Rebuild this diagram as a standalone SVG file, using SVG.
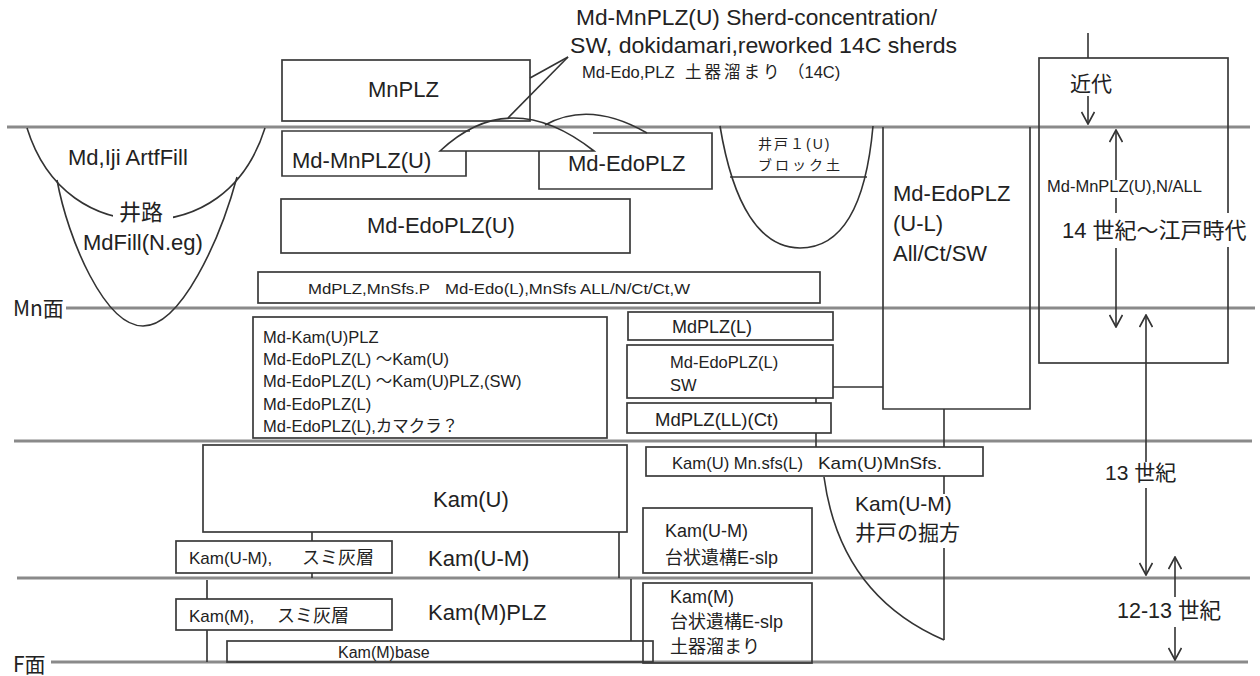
<svg xmlns="http://www.w3.org/2000/svg" width="1260" height="676" viewBox="0 0 1260 676">
<defs>
<style>
.strata{stroke:#8a8a8a;stroke-width:3;fill:none}
.bx{stroke:#3a3a3a;stroke-width:1.7;fill:none}
.ln{stroke:#333;stroke-width:1.6;fill:none}
text{font-family:'Liberation Sans','Noto Sans CJK JP',sans-serif;fill:#222}
.t22{font-size:22px}
.t16{font-size:16.5px}
.t14{font-size:14px}
.j{font-family:'Noto Sans CJK JP',sans-serif}
</style>
<marker id="ah" viewBox="0 0 14 14" refX="13" refY="7" markerWidth="14" markerHeight="14" markerUnits="userSpaceOnUse" orient="auto">
<path d="M1,0.5 L13,7 L1,13.5" fill="none" stroke="#333" stroke-width="1.7"/>
</marker>
</defs>
<rect width="1260" height="676" fill="#fff"/>

<g id="strata">
<line class="strata" x1="7" y1="127" x2="1250" y2="127"/>
<line class="strata" x1="66" y1="308" x2="1255" y2="308"/>
<line class="strata" x1="14" y1="441" x2="1252" y2="441"/>
<line class="strata" x1="17" y1="578" x2="1250" y2="578"/>
<line class="strata" x1="51" y1="662" x2="1248" y2="662"/>
<text class="j" x="13" y="316" font-size="21">Mn面</text>
<text class="j" x="13" y="672" font-size="21">F面</text>
</g>

<g id="well-left">
<path class="ln" d="M27,128 C47,192 95,220 146,220 C197,220 245,192 265,128"/>
<path class="ln" d="M57,180 C68,240 105,326 143,326 C181,326 220,240 237,177"/>
<rect x="113" y="199" width="60" height="27" fill="#fff"/>
<text class="t22" x="68" y="165">Md,Iji ArtfFill</text>
<text class="t22 j" x="119" y="220">井路</text>
<text class="t22" x="83" y="250">MdFill(N.eg)</text>
</g>

<g id="well-1">
<path class="ln" d="M720,126 C733,205 760,248 800,248 C842,248 866,205 873,126"/>
<line class="ln" x1="730" y1="177" x2="867" y2="177"/>
<text class="t14" x="758" y="149" letter-spacing="2">井戸１(U)</text>
<text class="t14" x="758" y="170" letter-spacing="3">ブロック土</text>
</g>

<g id="mnplz">
<rect class="bx" x="282" y="60" width="248" height="61"/>
<text class="t22" x="368" y="97">MnPLZ</text>
</g>

<g id="callout">
<text class="t22" x="576" y="25" textLength="361" lengthAdjust="spacingAndGlyphs">Md-MnPLZ(U) Sherd-concentration/</text>
<text class="t22" x="570" y="53" textLength="387" lengthAdjust="spacingAndGlyphs">SW, dokidamari,reworked 14C sherds</text>
<text class="t16" x="582" y="78">Md-Edo,PLZ<tspan x="685" letter-spacing="3">土器溜まり</tspan><tspan x="788">（14C)</tspan></text>
</g>

<g id="md-mnplz-u">
<path class="bx" d="M466,151 L466,176 L282,176 L282,131 L470,131"/>
<text class="t22" x="292" y="168">Md-MnPLZ(U)</text>
</g>

<g id="md-edoplz">
<path class="bx" d="M539,151 L539,189 L712,189 L712,133 L593,133"/>
<text class="t22" x="568" y="171">Md-EdoPLZ</text>
</g>

<g id="mound">
<path class="ln" d="M440,151 Q510,85 594,151 Z"/>
<path class="ln" d="M545,125 Q590,100 647,133"/>
</g>

<g id="md-edoplz-u">
<rect class="bx" x="281" y="199" width="349" height="54"/>
<text class="t22" x="367" y="233">Md-EdoPLZ(U)</text>
</g>

<g id="mdplz-mnsfs">
<rect class="bx" x="258" y="272" width="562" height="31"/>
<text x="308" y="294" font-size="15" textLength="122" lengthAdjust="spacingAndGlyphs" fill="#333">MdPLZ,MnSfs.P</text>
<text x="445" y="294" font-size="15" textLength="245" lengthAdjust="spacingAndGlyphs" fill="#333">Md-Edo(L),MnSfs ALL/N/Ct/Ct,W</text>
</g>

<g id="md-kam-u-plz">
<rect class="bx" x="253" y="317" width="354" height="121"/>
<text x="263" y="343" font-size="16.5">Md-Kam(U)PLZ</text>
<text x="263" y="365" font-size="16.5">Md-EdoPLZ(L) ～Kam(U)</text>
<text x="263" y="387" font-size="16.5">Md-EdoPLZ(L) ～Kam(U)PLZ,(SW)</text>
<text x="263" y="410" font-size="16.5">Md-EdoPLZ(L)</text>
<text x="263" y="432" font-size="16.5">Md-EdoPLZ(L),カマクラ？</text>
</g>

<g id="mdplz-l">
<rect class="bx" x="628" y="312" width="205" height="28"/>
<text x="672" y="333" font-size="18">MdPLZ(L)</text>
</g>

<g id="md-edoplz-l-sw">
<rect class="bx" x="627" y="345" width="206" height="53"/>
<text x="670" y="368" font-size="16.5">Md-EdoPLZ(L)</text>
<text x="670" y="391" font-size="16.5">SW</text>
</g>

<g id="mdplz-ll-ct">
<rect class="bx" x="627" y="403" width="204" height="30"/>
<text x="655" y="426" font-size="18.5">MdPLZ(LL)(Ct)</text>
</g>

<g id="md-edoplz-ul">
<path class="bx" d="M883,127 L883,409 L1030,409 L1030,127"/>
<text class="t22" x="893" y="201">Md-EdoPLZ</text>
<text class="t22" x="893" y="231">(U-L)</text>
<text class="t22" x="893" y="261">All/Ct/SW</text>
</g>

<g id="kam-u-mnsfs">
<rect class="bx" x="646" y="447" width="337" height="29"/>
<text x="672" y="469" font-size="17" textLength="131" lengthAdjust="spacingAndGlyphs" fill="#333">Kam(U) Mn.sfs(L)</text>
<text x="818" y="469" font-size="17" textLength="124" lengthAdjust="spacingAndGlyphs" fill="#333">Kam(U)MnSfs.</text>
</g>

<g id="well-pit">
<path class="ln" d="M824,477 Q840,595 944,640"/>
<text x="855" y="511" font-size="21">Kam(U-M)</text>
<text class="j" x="855" y="540" font-size="21">井戸の掘方</text>
</g>

<g id="kam-u">
<rect class="bx" x="203" y="445" width="424" height="87"/>
<text class="t22" x="433" y="507">Kam(U)</text>
</g>

<g id="kam-u-m">
<line class="bx" x1="619" y1="532" x2="619" y2="578"/>
<text class="t22" x="428" y="566">Kam(U-M)</text>
</g>

<g id="kam-u-m-sumi">
<rect class="bx" x="176" y="541" width="216" height="32"/>
<text x="189" y="564" font-size="17">Kam(U-M),<tspan x="302" class="j" font-size="18">スミ灰層</tspan></text>
</g>

<g id="kam-m-plz">
<path class="bx" d="M207,580 L207,599 M207,630 L207,662 M631,579 L631,641"/>
<text class="t22" x="428" y="620">Kam(M)PLZ</text>
</g>

<g id="kam-m-sumi">
<rect class="bx" x="176" y="599" width="216" height="31"/>
<text x="189" y="622" font-size="17">Kam(M),<tspan x="277" class="j" font-size="18">スミ灰層</tspan></text>
</g>

<g id="kam-m-base">
<rect class="bx" x="227" y="641" width="426" height="21"/>
<text x="338" y="658" font-size="16" fill="#333">Kam(M)base</text>
</g>

<g id="kam-u-m-eslp">
<rect class="bx" x="643" y="508" width="169" height="65"/>
<text x="665" y="537" font-size="18">Kam(U-M)</text>
<text x="665" y="564" font-size="18">台状遺構E-slp</text>
</g>

<g id="kam-m-eslp">
<rect class="bx" x="643" y="583" width="169" height="80"/>
<text x="670" y="603" font-size="18">Kam(M)</text>
<text x="670" y="628" font-size="18">台状遺構E-slp</text>
<text x="670" y="653" font-size="18">土器溜まり</text>
</g>

<g id="period-box">
<rect class="bx" x="1039" y="58" width="189" height="305"/>
<rect x="1058" y="213" width="192" height="34" fill="#fff"/>
<text class="j" x="1070" y="91" font-size="21">近代</text>
<text x="1047" y="192" font-size="16.5">Md-MnPLZ(U),N/ALL</text>
<text x="1062" y="238" font-size="22">14 世紀～江戸時代</text>
<text x="1105" y="480" font-size="21">13 世紀</text>
<text x="1117" y="618" font-size="21.5">12-13 世紀</text>
</g>

<g id="connectors">
<line class="ln" x1="568" y1="57" x2="530" y2="78"/>
<line class="ln" x1="568" y1="57" x2="508" y2="118"/>
<line class="ln" x1="833" y1="387" x2="883" y2="387"/>
<line class="ln" x1="944" y1="409" x2="944" y2="447"/>
<line class="ln" x1="944" y1="476" x2="944" y2="494"/>
<line class="ln" x1="944" y1="548" x2="944" y2="640"/>
<line class="ln" x1="816" y1="398" x2="816" y2="403"/>
<line class="ln" x1="816" y1="433" x2="816" y2="447"/>
<line class="ln" x1="312" y1="532" x2="312" y2="541"/>
<line class="ln" x1="312" y1="573" x2="312" y2="578"/>
<line class="ln" x1="1088" y1="33" x2="1088" y2="58"/>
<line class="ln" x1="1088" y1="96" x2="1088" y2="124" marker-end="url(#ah)"/>
<line class="ln" x1="1116" y1="180" x2="1116" y2="130" marker-end="url(#ah)"/>
<line class="ln" x1="1116" y1="198" x2="1116" y2="213"/>
<line class="ln" x1="1116" y1="248" x2="1116" y2="327" marker-end="url(#ah)"/>
<line class="ln" x1="1146" y1="462" x2="1146" y2="315" marker-end="url(#ah)"/>
<line class="ln" x1="1146" y1="488" x2="1146" y2="575" marker-end="url(#ah)"/>
<line class="ln" x1="1175" y1="597" x2="1175" y2="557" marker-end="url(#ah)"/>
<line class="ln" x1="1175" y1="627" x2="1175" y2="660" marker-end="url(#ah)"/>
</g>
</svg>
